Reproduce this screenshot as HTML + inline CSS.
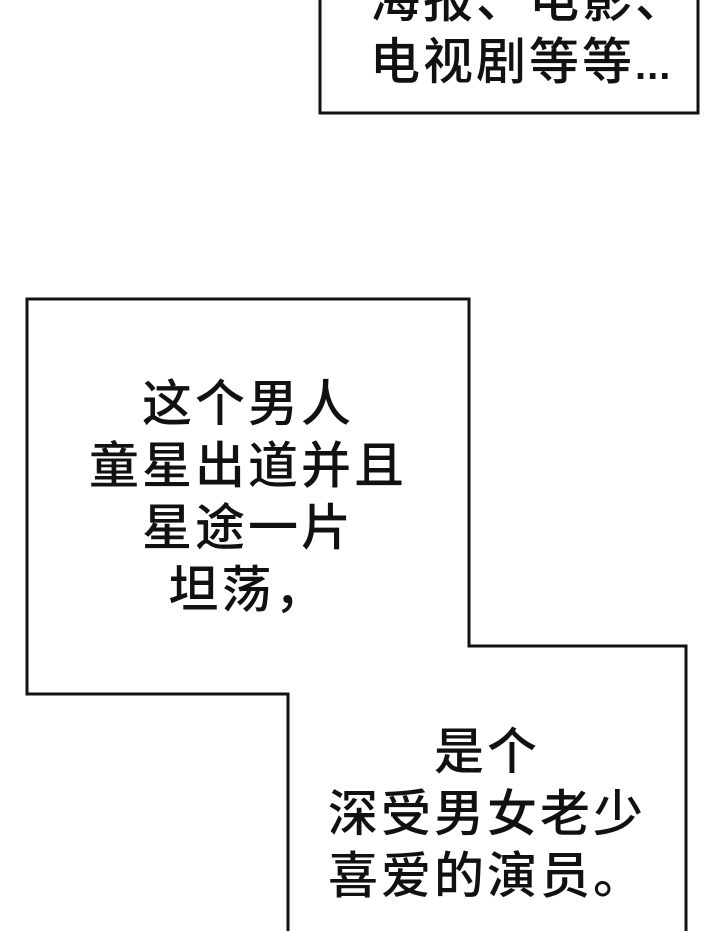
<!DOCTYPE html>
<html><head><meta charset="utf-8"><style>
html,body{margin:0;padding:0;background:#fff;width:720px;height:931px;overflow:hidden;position:relative}
.t{position:absolute;font-family:"Liberation Sans","Noto Sans CJK SC",sans-serif;font-weight:500;font-size:50px;line-height:62px;color:#111;text-align:center;letter-spacing:3px;white-space:nowrap}
.d{font-family:"Liberation Sans",sans-serif;font-weight:bold;font-size:40px;letter-spacing:1px}
</style></head><body>
<svg width="720" height="931" style="position:absolute;left:0;top:0">
<rect x="320" y="-5" width="378" height="118" fill="#fff" stroke="#111" stroke-width="3"/>
<polyline points="288,935 288,694 27,694 27,299 469,299 469,646 686,646 686,935" fill="none" stroke="#111" stroke-width="3"/>
</svg>
<div class="t" style="left:370px;top:-31px;text-align:left">海报、电影、<br>电视剧等等<span class="d">...</span></div>
<div class="t" style="left:27px;width:442px;top:373px">这个男人<br>童星出道并且<br>星途一片<br>坦荡，</div>
<div class="t" style="left:288px;width:398px;top:721px">是个<br>深受男女老少<br>喜爱的演员。</div>
</body></html>
